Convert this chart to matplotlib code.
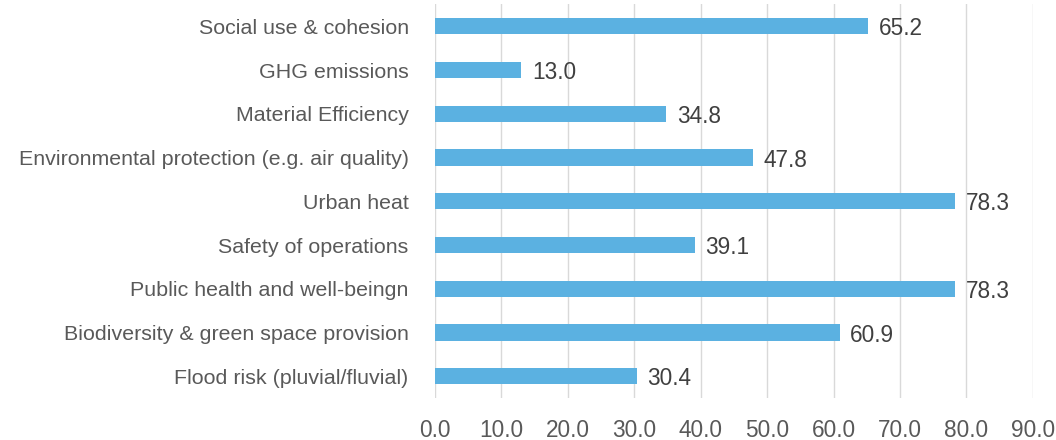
import matplotlib.pyplot as plt
import numpy as np

categories = [
    'Social use & cohesion',
    'GHG emissions',
    'Material Efficiency',
    'Environmental protection (e.g. air quality)',
    'Urban heat',
    'Safety of operations',
    'Public health and well-beingn',
    'Biodiversity & green space provision',
    'Flood risk (pluvial/fluvial)',
]
values = [65.2, 13.0, 34.8, 47.8, 78.3, 39.1, 78.3, 60.9, 30.4]
xticks = np.arange(0, 100, 10)

plt.rcParams['font.family'] = ['Liberation Sans', 'DejaVu Sans']

fig = plt.figure(figsize=(10.56, 4.4), dpi=100)
ax = fig.add_axes([0.412, 0.095, 0.566, 0.895])

y = np.arange(len(categories))[::-1]
ax.barh(y, values, height=0.37, color='#5BB1E1', zorder=3)

# data labels
for yi, v in zip(y, values):
    ax.text(v + 1.6, yi, '{:.1f}'.format(v), va='center_baseline', ha='left',
            fontsize=16.3, color='#404040')

ax.set_xlim(0, 90)
ax.set_ylim(-0.5, len(categories) - 0.5)
ax.set_xticks(xticks)
ax.set_xticklabels(['{:.1f}'.format(t) for t in xticks])
ax.set_yticks(y)
ax.set_yticklabels(categories)

ax.grid(axis='x', color='#D9D9D9', linewidth=1, zorder=0)
for s in ax.spines.values():
    s.set_visible(False)
ax.tick_params(axis='both', length=0, colors='#595959')
ax.tick_params(axis='y', labelsize=15.4, pad=19)
ax.tick_params(axis='x', labelsize=16.3, pad=15)

fig.savefig('out.png', dpi=100)
